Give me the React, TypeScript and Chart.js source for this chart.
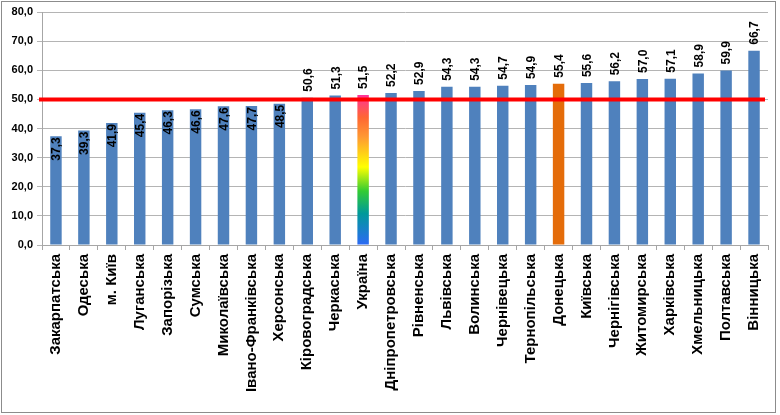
import React, { useEffect, useRef } from "react";
import { Chart, registerables } from "chart.js";

Chart.register(...registerables);

const categories = [
  "Закарпатська", "Одеська", "м. Київ", "Луганська", "Запорізька", "Сумська",
  "Миколаївська", "Івано-Франківська", "Херсонська", "Кіровоградська", "Черкаська",
  "Україна", "Дніпропетровська", "Рівненська", "Львівська", "Волинська",
  "Чернівецька", "Тернопільська", "Донецька", "Київська", "Чернігівська",
  "Житомирська", "Харківська", "Хмельницька", "Полтавська", "Вінницька",
];
const values = [
  37.3, 39.3, 41.9, 45.4, 46.3, 46.6, 47.6, 47.7, 48.5, 50.6, 51.3, 51.5, 52.2,
  52.9, 54.3, 54.3, 54.7, 54.9, 55.4, 55.6, 56.2, 57.0, 57.1, 58.9, 59.9, 66.7,
];
const thresholdValue = 50;
const yTicks = [0, 10, 20, 30, 40, 50, 60, 70, 80];
const highlightUkraine = "Україна";
const highlightDonetsk = "Донецька";

const fmt = (v: number) => v.toFixed(1).replace(".", ",");

const overlayPlugin = {
  id: "overlay",
  afterDatasetsDraw(chart: any) {
    const { ctx, chartArea, scales } = chart;
    const y = scales.y.getPixelForValue(thresholdValue);
    ctx.save();
    ctx.strokeStyle = "#ff0000";
    ctx.lineWidth = 4;
    ctx.beginPath();
    ctx.moveTo(chartArea.left - 3, y);
    ctx.lineTo(chartArea.right - 3, y);
    ctx.stroke();

    const meta = chart.getDatasetMeta(0);
    ctx.font = "bold 12px 'Liberation Sans', Arial, sans-serif";
    ctx.fillStyle = "#000";
    ctx.textBaseline = "middle";
    meta.data.forEach((bar: any, i: number) => {
      const v = values[i];
      const text = fmt(v);
      ctx.save();
      ctx.translate(bar.x + 1, bar.y);
      ctx.rotate(-Math.PI / 2);
      if (v < thresholdValue) {
        ctx.textAlign = "right";
        ctx.fillText(text, -1, 0);
      } else {
        ctx.textAlign = "left";
        ctx.fillText(text, 6, 0);
      }
      ctx.restore();
    });
    ctx.restore();
  },
};

export default function App() {
  const ref = useRef<HTMLCanvasElement>(null);
  useEffect(() => {
    if (!ref.current) return;
    const chart = new Chart(ref.current, {
      type: "bar",
      data: {
        labels: categories,
        datasets: [
          {
            data: values,
            backgroundColor: (c: any) => {
              const label = categories[c.dataIndex];
              if (label === highlightDonetsk) return "#e46c0a";
              if (label === highlightUkraine) {
                const ch = c.chart;
                const ys = ch.scales && ch.scales.y;
                if (!ys) return "#ff6633";
                const y0 = ys.getPixelForValue(0);
                const y1 = ys.getPixelForValue(values[c.dataIndex]);
                const g = ch.ctx.createLinearGradient(0, y0, 0, y1);
                g.addColorStop(0, "#2d6af5");
                g.addColorStop(0.21, "#00999a");
                g.addColorStop(0.36, "#33cc33");
                g.addColorStop(0.52, "#ffff00");
                g.addColorStop(0.72, "#ff9933");
                g.addColorStop(0.85, "#ff6633");
                g.addColorStop(1, "#ff3399");
                return g;
              }
              return "#4f81bd";
            },
            categoryPercentage: 1,
            barPercentage: 0.41,
          },
        ],
      },
      options: {
        animation: false,
        responsive: false,
        layout: { padding: { left: 0, right: 12, top: 12, bottom: 8 } },
        plugins: { legend: { display: false }, tooltip: { enabled: false } },
        scales: {
          x: {
            afterFit: (s: any) => {
              s.height = 415 - 8 - 245;
            },
            grid: {
              display: true,
              drawOnChartArea: false,
              offset: true,
              color: "#a6a6a6",
              tickLength: 5,
            },
            border: { color: "#a6a6a6" },
            ticks: {
              autoSkip: false,
              maxRotation: 90,
              minRotation: 90,
              padding: 4,
              color: "#000",
              font: { family: "'Liberation Sans', Arial, sans-serif", size: 15, weight: "bold" },
            },
          },
          y: {
            min: 0,
            max: 80,
            afterFit: (s: any) => {
              s.width = 42;
            },
            afterBuildTicks: (s: any) => {
              s.ticks = yTicks.map((v) => ({ value: v }));
            },
            grid: { color: "#b4b4b4", tickLength: 5 },
            border: { color: "#a6a6a6" },
            ticks: {
              stepSize: 10,
              padding: 4,
              color: "#000",
              callback: (v: any) => fmt(Number(v)),
              font: { family: "'Liberation Sans', Arial, sans-serif", size: 11, weight: "bold" },
            },
          },
        },
      },
      plugins: [overlayPlugin],
    });
    return () => chart.destroy();
  }, []);

  return (
    <div style={{ position: "fixed", left: 0, top: 0, width: 780, height: 415, background: "#fff" }}>
      <div
        style={{
          position: "absolute",
          left: 1,
          top: 1,
          width: 775,
          height: 412,
          border: "1px solid #8c8c8c",
          boxSizing: "border-box",
        }}
      />
      <canvas ref={ref} width={780} height={415} style={{ position: "absolute", left: 0, top: 0 }} />
    </div>
  );
}
